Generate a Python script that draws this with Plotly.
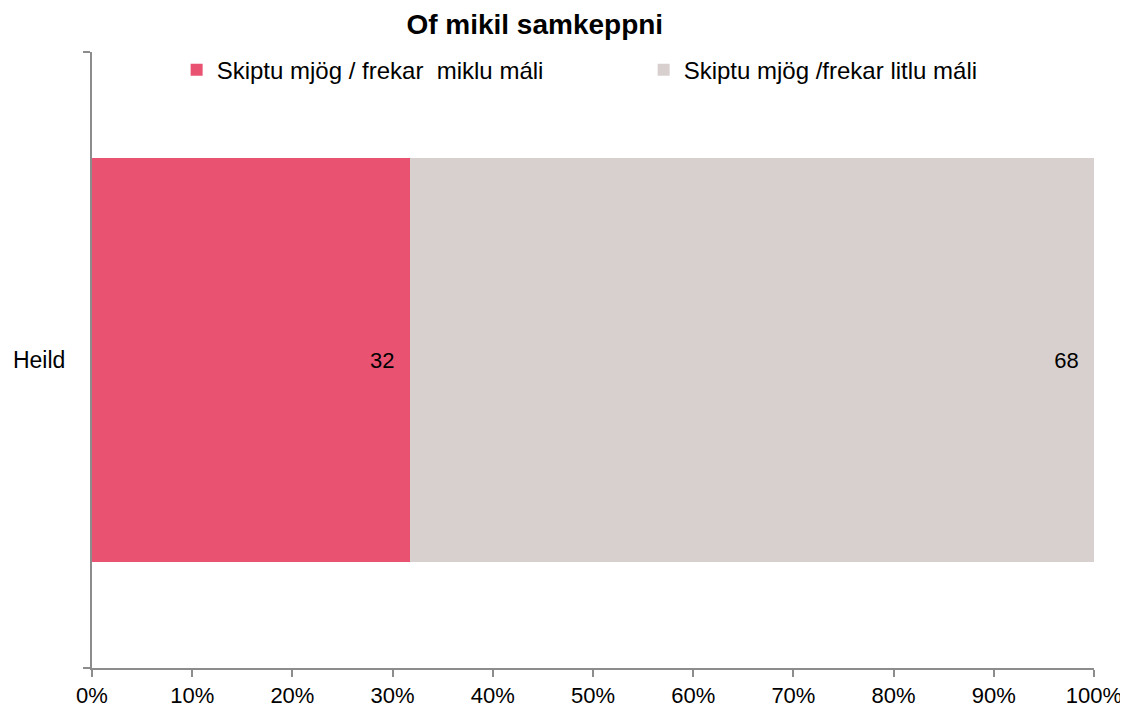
import plotly.graph_objects as go

categories = ["Heild"]
series_names = ["Skiptu mjög / frekar  miklu máli", "Skiptu mjög /frekar litlu máli"]
values_high = [31.7]
values_low = [68.3]
labels_high = ["32"]
labels_low = ["68"]
colors = ["#E95371", "#D8D0CE"]
tick_vals = [0, 10, 20, 30, 40, 50, 60, 70, 80, 90, 100]
tick_text = [f"{v}%" for v in tick_vals]

FONT = "Liberation Sans"
PAD = "&nbsp;&nbsp;"

fig = go.Figure()
for name, vals, labs, col in [
    (series_names[0], values_high, labels_high, colors[0]),
    (series_names[1], values_low, labels_low, colors[1]),
]:
    fig.add_trace(go.Bar(
        y=categories, x=vals, orientation="h", name=name,
        marker=dict(color=col, line=dict(width=0)),
        text=[l + PAD for l in labs], textposition="inside", insidetextanchor="end",
        textfont=dict(family=FONT, size=22, color="black"),
        hoverinfo="skip",
    ))

# the page body adds an 8px offset, so margins compensate
fig.update_layout(
    barmode="stack",
    bargap=0.343,
    width=1128, height=715,
    margin=dict(l=84, r=42, t=44, b=55, autoexpand=False),
    paper_bgcolor="white", plot_bgcolor="white",
    title=dict(text="<b>Of mikil samkeppni</b>", x=0.467, xref="container", xanchor="center",
               y=0.977, yref="container", yanchor="middle",
               font=dict(family=FONT, size=28, color="black")),
    legend=dict(orientation="h", xref="container", x=0.1495, xanchor="left",
                yref="container", y=0.9446, yanchor="top",
                entrywidth=422, entrywidthmode="pixels",
                font=dict(family=FONT, size=24, color="black"),
                bgcolor="rgba(0,0,0,0)", traceorder="normal"),
    showlegend=True,
    font=dict(family=FONT, size=22, color="black"),
)
fig.update_xaxes(
    range=[0, 100], tickvals=tick_vals, ticktext=tick_text, automargin=False,
    showgrid=False, zeroline=False, showline=True, linecolor="#8C8C8C", linewidth=2,
    ticks="outside", ticklen=7, tickwidth=2, tickcolor="#8C8C8C",
    tickfont=dict(family=FONT, size=22, color="black"),
)
fig.update_yaxes(
    type="category", range=[-0.5, 0.5], tickson="boundaries", automargin=False,
    showgrid=False, zeroline=False, showline=True, linecolor="#8C8C8C", linewidth=2,
    ticks="outside", ticklen=7, tickwidth=2, tickcolor="#8C8C8C",
    tickfont=dict(family=FONT, size=23, color="black"), ticklabelstandoff=20,
)

fig.write_html("out.html")
